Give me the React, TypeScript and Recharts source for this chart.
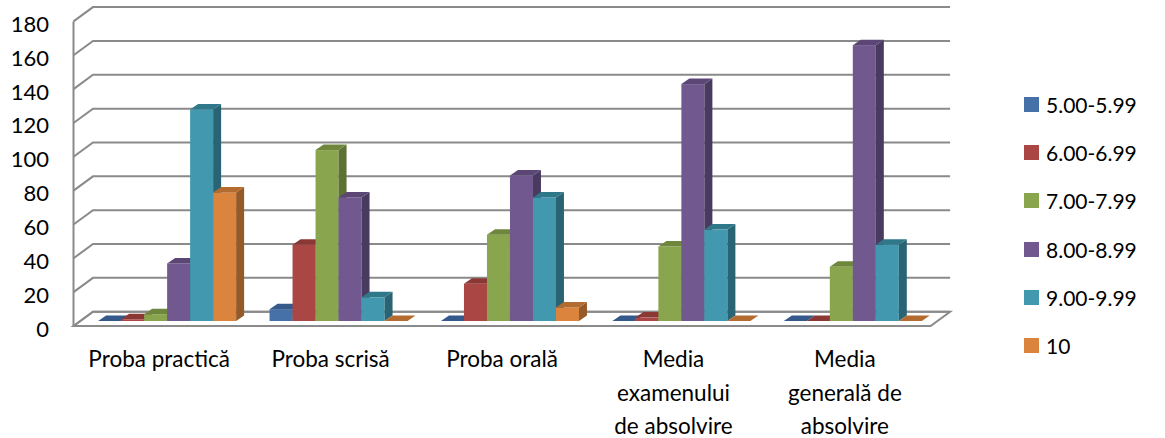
import React from 'react';
import { BarChart, Bar, XAxis, YAxis, CartesianGrid } from 'recharts';

const categories = ['Proba practică', 'Proba scrisă', 'Proba orală', 'Media\nexamenului\nde absolvire', 'Media\ngenerală de\nabsolvire'];
const seriesNames = ['5.00-5.99', '6.00-6.99', '7.00-7.99', '8.00-8.99', '9.00-9.99', '10'];
const grade5 = [0, 7, 0, 0, 0];
const grade6 = [1, 45, 22, 2, 0];
const grade7 = [4, 101, 51, 44, 32];
const grade8 = [34, 73, 86, 140, 163];
const grade9 = [125, 14, 73, 54, 45];
const grade10 = [76, 0, 8, 0, 0];
const yTicks = [0, 20, 40, 60, 80, 100, 120, 140, 160, 180];

const frontColors = ['#4571A8', '#AA4643', '#89A54E', '#71588F', '#4198AF', '#DB843D'];
const topColors = ['#35598A', '#8B3734', '#6F873D', '#5B4676', '#2F788A', '#B46B2F'];
const sideColors = ['#2C4A71', '#76302D', '#5D7133', '#493A5F', '#296474', '#955A27'];

const FONT = 'Lato, Carlito, Calibri, sans-serif';

// 3d offsets relative to the plane the bars stand in
const FRONT_DX = -6.8;
const FRONT_DY = 5;
const BACK_DX = 12.7;
const BACK_DY = -9.3;
const BAR_DX = 8;
const BAR_DY = 5.5;
const GRID = '#8a8a8a';

const allSeries = [grade5, grade6, grade7, grade8, grade9, grade10];
const data = categories.map((name, i) => {
    const row: Record<string, any> = { name };
    seriesNames.forEach((s, k) => { row[s] = allSeries[k][i]; });
    return row;
});

const Box = (props: any) => {
    const { x, y, width, height, s } = props;
    if (x == null || y == null) return null;
    const w = width;
    const h = Math.max(height || 0, 0);
    return (
        <g>
            {h > 0 && <rect x={x} y={y} width={w} height={h} fill={frontColors[s]} />}
            {h > 0 && (
                <polygon
                    points={`${x + w},${y} ${x + w + BAR_DX},${y - BAR_DY} ${x + w + BAR_DX},${y + h - BAR_DY} ${x + w},${y + h}`}
                    fill={sideColors[s]}
                />
            )}
            <polygon
                points={`${x},${y} ${x + BAR_DX},${y - BAR_DY} ${x + w + BAR_DX},${y - BAR_DY} ${x + w},${y}`}
                fill={topColors[s]}
            />
        </g>
    );
};

const GridLine = (p: any) => {
    const { x1, y1, x2, y2 } = p;
    const isFloor = p.y != null && p.height != null && Math.abs(y1 - (p.y + p.height)) < 1;
    return (
        <g key={`grid-${y1}`}>
            {isFloor && (
                <>
                    <polygon
                        points={`${x1 + FRONT_DX},${y1 + FRONT_DY} ${x1 + BACK_DX},${y1 + BACK_DY} ${x2 + BACK_DX},${y2 + BACK_DY} ${x2 + FRONT_DX},${y2 + FRONT_DY}`}
                        fill="#fff" stroke={GRID} strokeWidth={2}
                    />
                    <line x1={x1 + FRONT_DX} y1={p.y + FRONT_DY} x2={x1 + FRONT_DX} y2={y1 + FRONT_DY} stroke={GRID} strokeWidth={2} />
                </>
            )}
            <path
                d={`M${x1 + FRONT_DX},${y1 + FRONT_DY} L${x1 + BACK_DX},${y1 + BACK_DY} L${x2 + BACK_DX},${y2 + BACK_DY}`}
                fill="none" stroke={GRID} strokeWidth={2}
            />
        </g>
    );
};

const CategoryTick = (props: any) => {
    const { x, y, payload } = props;
    const lines = String(payload.value).split('\n');
    return (
        <g>
            {lines.map((line, i) => (
                <text key={i} x={x + FRONT_DX} y={y + 46 + i * 33.5} textAnchor="middle"
                    fontFamily={FONT} fontSize={22.5} fill="#000">
                    {line}
                </text>
            ))}
        </g>
    );
};

const ValueTick = (props: any) => {
    const { y, payload } = props;
    return (
        <text x={49} y={y + FRONT_DY + 2} textAnchor="end" dominantBaseline="central" fontFamily={FONT} fontSize={22} fill="#000">
            {payload.value}
        </text>
    );
};

export default function App() {
    return (
        <div style={{ position: 'absolute', left: 0, top: 0, width: 1165, height: 438, background: '#fff' }}>
            <BarChart
                width={1165}
                height={438}
                data={data}
                margin={{ top: 16.4, right: 227.6, bottom: 0, left: 0 }}
                barCategoryGap="10.4%"
                barGap={0}
            >
                <CartesianGrid vertical={false} horizontal={GridLine} />
                <XAxis dataKey="name" height={117} axisLine={false} tickLine={false} tickSize={0} tickMargin={0}
                    interval={0} tick={CategoryTick} />
                <YAxis width={80.3} domain={[0, 180]} ticks={yTicks} axisLine={false} tickLine={false}
                    tick={ValueTick} interval={0} />
                {seriesNames.map((s, k) => (
                    <Bar key={s} dataKey={s} isAnimationActive={false} fill={frontColors[k]}
                        shape={(p: any) => <Box {...p} s={k} />} />
                ))}
            </BarChart>
            <div style={{ position: 'absolute', left: 1024, top: 80, fontFamily: FONT, fontSize: 21, color: '#000' }}>
                {seriesNames.map((s, k) => (
                    <div key={s} style={{ display: 'flex', alignItems: 'center', height: 48.3 }}>
                        <span style={{ width: 15, height: 15, background: frontColors[k], marginRight: 7, display: 'inline-block' }} />
                        <span>{s}</span>
                    </div>
                ))}
            </div>
        </div>
    );
}
